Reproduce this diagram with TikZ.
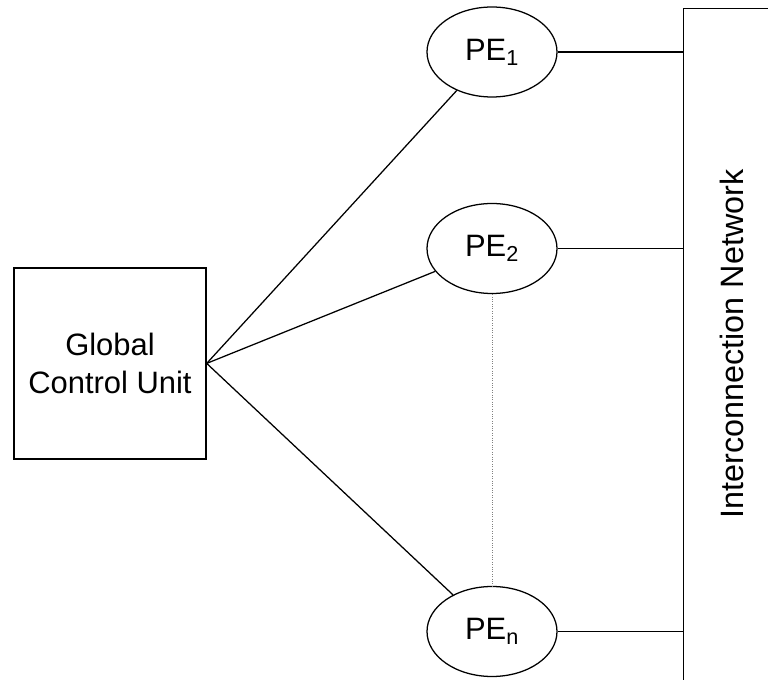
\documentclass[tikz,border=0pt]{standalone}
\usepackage{fontspec}
\setmainfont{Liberation Sans}
\usetikzlibrary{shapes.geometric}

\tikzset{
  unit/.style={draw, line width=1pt, minimum width=4.8cm, minimum height=4.775cm, align=center, font=\fontsize{22}{27.5}\selectfont},
  pe/.style={draw, ellipse, line width=0.9pt, minimum width=3.25cm, minimum height=2.25cm, inner sep=0pt, font=\fontsize{22}{26}\selectfont},
  link/.style={line width=0.9pt}
}

\begin{document}
\begin{tikzpicture}
  \clip (0,0) rectangle (19.2,16.975);

  \node [unit] (gcu) at (2.75,7.89) {Global\\Control Unit};

  \node [pe] (pe1) at (12.3,15.675) {PE\textsubscript{1}};
  \node [pe] (pe2) at (12.3,10.7625) {PE\textsubscript{2}};
  \node [pe] (pen) at (12.3,1.1875) {PE\textsubscript{n}};

  % network bar runs off the page
  \node [draw, line width=1pt, minimum width=3cm, minimum height=18cm, inner sep=0pt, anchor=north west] (net) at (17.075,16.775) {};
  \node [rotate=90, font=\fontsize{23}{27}\selectfont] (netlabel) at (18.3,8.375) {Interconnection Network};

  \draw [link] (gcu.east)--(pe1);
  \draw [link] (gcu.east)--(pe2);
  \draw [link] (gcu.east)--(pen);

  \draw [link] (pe1.east)--(pe1.east -| net.west);
  \draw [link] (pe2.east)--(pe2.east -| net.west);
  \draw [link] (pen.east)--(pen.east -| net.west);

  \draw [densely dotted, gray, line width=0.7pt] (pe2.south)--(pen.north);
\end{tikzpicture}
\end{document}
